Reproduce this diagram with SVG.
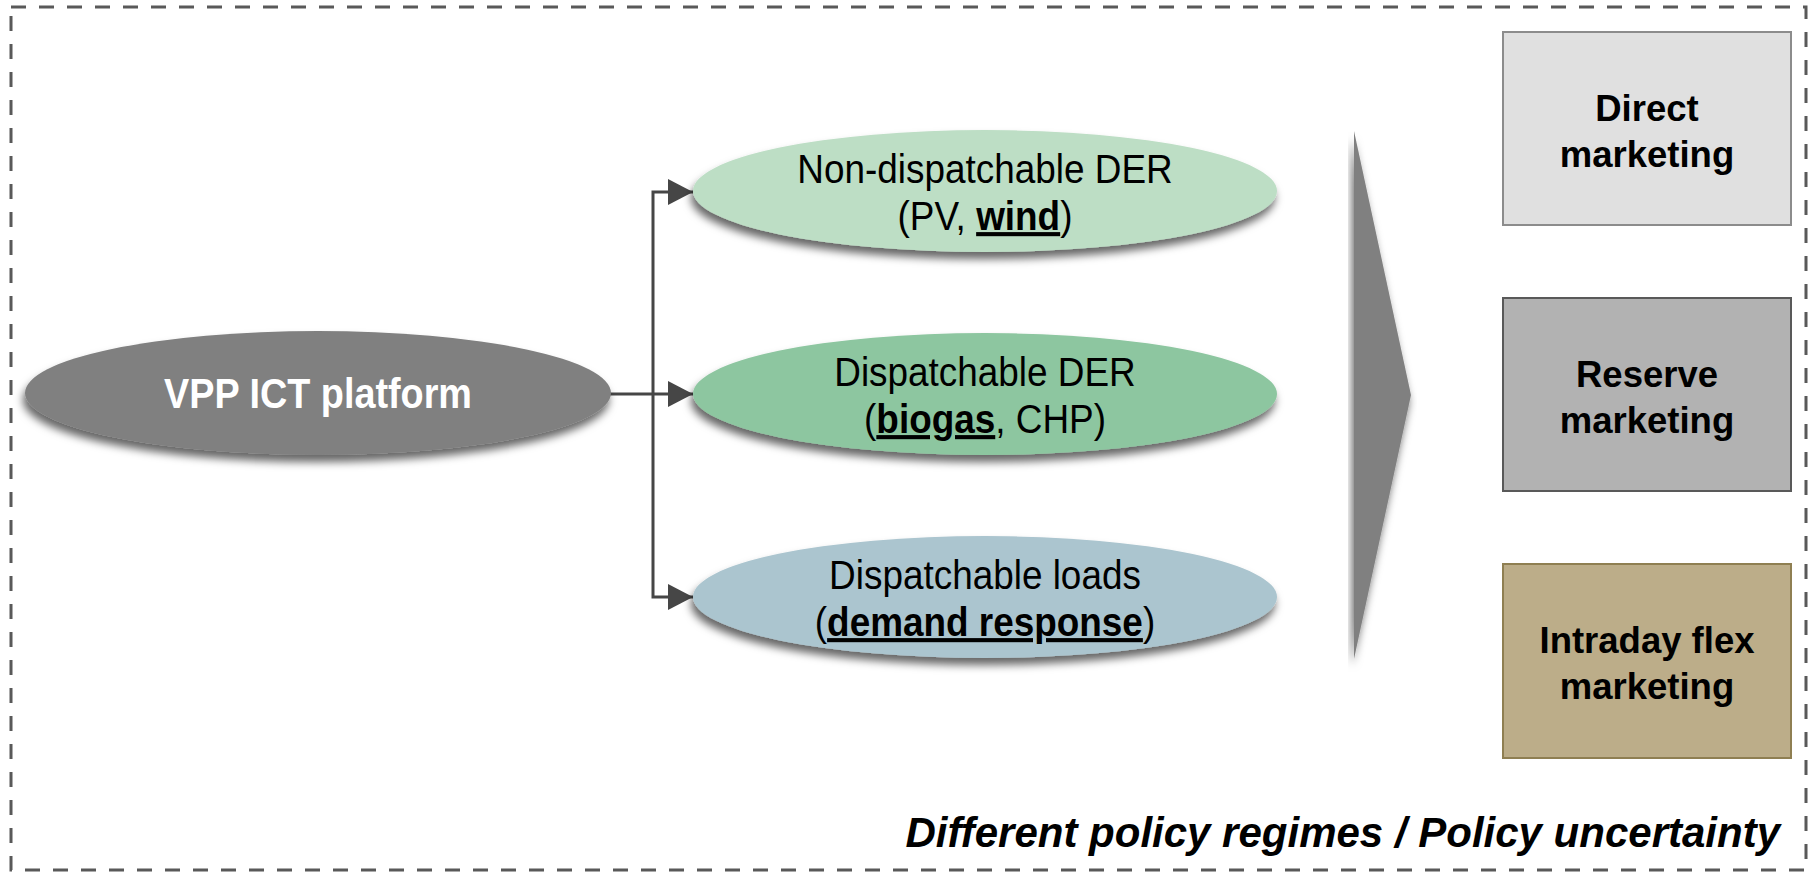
<svg xmlns="http://www.w3.org/2000/svg" width="1816" height="872" viewBox="0 0 1816 872">
  <style>
    .lbl { font-family: "Liberation Sans", Arial, sans-serif; fill: #000; text-anchor: middle; }
    .ell { font-size: 41px; }
    .box { font-size: 36.5px; font-weight: bold; }
    .b { font-weight: bold; text-decoration: underline; }
    .conn { fill: none; stroke: #464646; stroke-width: 3; }
  </style>
  <defs>
    <filter id="shadow" x="-10%" y="-20%" width="120%" height="150%">
      <feDropShadow dx="-2" dy="7" stdDeviation="4" flood-color="#000" flood-opacity="0.6"/>
    </filter>
    <marker id="arrow" markerWidth="25" markerHeight="26" refX="25" refY="13" orient="auto" markerUnits="userSpaceOnUse">
      <path d="M0,0 L25,13 L0,26 Z" fill="#464646"/>
    </marker>
  </defs>

  <!-- outer dashed frame -->
  <rect x="11" y="7" width="1795" height="863" fill="none" stroke="#595959" stroke-width="3" stroke-dasharray="15 13"/>

  <!-- connectors -->
  <g id="connectors">
    <path class="conn" d="M610,394 H693" marker-end="url(#arrow)"/>
    <path class="conn" d="M653,394 V192 H693" marker-end="url(#arrow)"/>
    <path class="conn" d="M653,394 V597 H693" marker-end="url(#arrow)"/>
  </g>

  <g id="vpp">
    <ellipse cx="318" cy="393" rx="293" ry="62" fill="#808080" filter="url(#shadow)"/>
    <text class="lbl" x="318" y="408" font-size="42" font-weight="bold" style="fill:#fff" transform="matrix(0.9,0,0,1,31.8,0)">VPP ICT platform</text>
  </g>

  <g id="non-dispatchable">
    <ellipse cx="985" cy="191" rx="292" ry="61" fill="#bddec5" filter="url(#shadow)"/>
    <g transform="matrix(0.9,0,0,1,98.5,0)">
      <text class="lbl ell" x="985" y="183">Non-dispatchable DER</text>
      <text class="lbl ell" x="985" y="230">(PV, <tspan class="b">wind</tspan>)</text>
    </g>
  </g>

  <g id="dispatchable">
    <ellipse cx="985" cy="394" rx="292" ry="61" fill="#8dc6a0" filter="url(#shadow)"/>
    <g transform="matrix(0.9,0,0,1,98.5,0)">
      <text class="lbl ell" x="985" y="386">Dispatchable DER</text>
      <text class="lbl ell" x="985" y="433">(<tspan class="b">biogas</tspan>, CHP)</text>
    </g>
  </g>

  <g id="loads">
    <ellipse cx="985" cy="597" rx="292" ry="61" fill="#abc5cf" filter="url(#shadow)"/>
    <g transform="matrix(0.9,0,0,1,98.5,0)">
      <text class="lbl ell" x="985" y="589">Dispatchable loads</text>
      <text class="lbl ell" x="985" y="636">(<tspan class="b">demand response</tspan>)</text>
    </g>
  </g>

  <g id="big-arrow">
    <polygon points="1354,131 1411,395 1354,659" fill="#808080" filter="url(#shadow)"/>
  </g>

  <g id="direct">
    <rect x="1503" y="32" width="288" height="193" fill="#e0e0e0" stroke="#8c8c8c" stroke-width="2"/>
    <text class="lbl box" x="1647" y="121">Direct</text>
    <text class="lbl box" x="1647" y="167">marketing</text>
  </g>

  <g id="reserve">
    <rect x="1503" y="298" width="288" height="193" fill="#b2b2b2" stroke="#595959" stroke-width="2"/>
    <text class="lbl box" x="1647" y="387">Reserve</text>
    <text class="lbl box" x="1647" y="433">marketing</text>
  </g>

  <g id="intraday">
    <rect x="1503" y="564" width="288" height="194" fill="#bcad89" stroke="#8f7f52" stroke-width="2"/>
    <text class="lbl box" x="1647" y="653">Intraday flex</text>
    <text class="lbl box" x="1647" y="699">marketing</text>
  </g>

  <text id="policy" x="1780" y="847" font-family="Liberation Sans, Arial, sans-serif" font-size="42" font-weight="bold" font-style="italic" text-anchor="end" fill="#000">Different policy regimes / Policy uncertainty</text>
</svg>
